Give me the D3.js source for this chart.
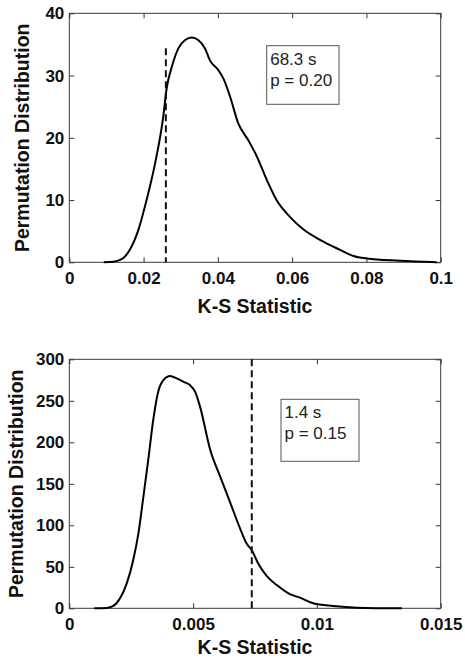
<!DOCTYPE html>
<html>
<head>
<meta charset="utf-8">
<script src="https://cdn.jsdelivr.net/npm/d3@7"></script>
<style>
  body { margin: 0; background: #fff; }
  svg { display: block; }
  text { font-family: "Liberation Sans", Arial, Helvetica, sans-serif; }
</style>
</head>
<body>
<div id="chart"></div>
<script>
// top panel: permutation distribution of K-S statistic (68.3 s)
const topKs = [0.0093, 0.0119, 0.0141, 0.0163, 0.0186, 0.0208, 0.0231, 0.0253, 0.0262, 0.0276,
  0.0294, 0.0312, 0.0330, 0.0347, 0.0365, 0.0379, 0.0401, 0.0415, 0.0433, 0.0455, 0.0482,
  0.0505, 0.0532, 0.0558, 0.0594, 0.0630, 0.0675, 0.0729, 0.0765, 0.0801, 0.0890, 0.0989];
const topDens = [0, 0.1, 0.5, 2.0, 5.2, 10.0, 15.9, 23.4, 27.9, 31.4,
  34.4, 35.7, 36.1, 35.7, 34.4, 32.4, 30.9, 29.5, 26.6, 22.3, 19.6,
  17.0, 13.2, 10.0, 7.3, 5.3, 3.6, 2.0, 1.0, 0.6, 0.25, 0];
const topObserved = 0.026;
const topDashTop = 34.4;
const topNote = ['68.3 s', 'p = 0.20'];

// bottom panel (1.4 s)
const botKs = [0.00101, 0.00151, 0.00178, 0.00205, 0.00232, 0.00258, 0.00279, 0.00299, 0.00319,
  0.00339, 0.00359, 0.00380, 0.00407, 0.00434, 0.00460, 0.00487, 0.00508, 0.00528, 0.00569,
  0.00609, 0.00649, 0.00690, 0.00716, 0.00737, 0.00763, 0.00797, 0.00838, 0.00891, 0.00932,
  0.00985, 0.01066, 0.01161, 0.01343];
const botDens = [0, 0.4, 2.8, 12, 30, 58, 90, 134, 179,
  227, 261, 275, 280, 277, 273, 269, 261, 243, 191,
  159, 128, 96, 78, 70, 54, 39, 28, 17, 12.8,
  6, 2.8, 0.8, 0];
const botObserved = 0.00737;
const botDashTop = 300;
const botNote = ['1.4 s', 'p = 0.15'];

const topXTicks = [0, 0.02, 0.04, 0.06, 0.08, 0.1];
const topYTicks = [0, 10, 20, 30, 40];
const botXTicks = [0, 0.005, 0.01, 0.015];
const botYTicks = [0, 50, 100, 150, 200, 250, 300];

const width = 465, height = 658;
const svg = d3.select('#chart').append('svg')
  .attr('width', width)
  .attr('height', height);

const drawPanel = function(cfg) {
  const x = d3.scaleLinear().domain(cfg.xDomain).range([69.3, 440.7]);
  const y = d3.scaleLinear().domain(cfg.yDomain).range([cfg.bottom, cfg.top]);
  const g = svg.append('g');

  const styleAxis = (sel) => {
    sel.select('.domain').remove();
    sel.selectAll('.tick line').attr('stroke', '#333');
    sel.selectAll('.tick text')
      .attr('fill', '#111')
      .attr('font-size', '17px')
      .attr('font-weight', 'bold');
  };

  g.append('g')
    .attr('transform', `translate(0,${cfg.bottom})`)
    .call(d3.axisBottom(x).tickValues(cfg.xTicks).tickFormat(d3.format('~g'))
      .tickSizeInner(-5).tickSizeOuter(0).tickPadding(10))
    .call(styleAxis);
  g.append('g')
    .attr('transform', `translate(0,${cfg.top})`)
    .call(d3.axisTop(x).tickValues(cfg.xTicks).tickFormat('')
      .tickSizeInner(-5).tickSizeOuter(0))
    .call(styleAxis);
  g.append('g')
    .attr('transform', 'translate(69.3,0)')
    .call(d3.axisLeft(y).tickValues(cfg.yTicks)
      .tickSizeInner(-5).tickSizeOuter(0).tickPadding(5))
    .call(styleAxis);
  g.append('g')
    .attr('transform', 'translate(440.7,0)')
    .call(d3.axisRight(y).tickValues(cfg.yTicks).tickFormat('')
      .tickSizeInner(-5).tickSizeOuter(0))
    .call(styleAxis);

  // box
  g.append('rect')
    .attr('x', x.range()[0])
    .attr('y', cfg.top)
    .attr('width', x.range()[1] - x.range()[0])
    .attr('height', cfg.bottom - cfg.top)
    .attr('fill', 'none')
    .attr('stroke', '#3a3a3a')
    .attr('stroke-width', 1);

  const line = d3.line()
    .x((d) => x(d[0]))
    .y((d) => y(d[1]))
    .curve(d3.curveMonotoneX);

  g.append('path')
    .datum(d3.zip(cfg.ks, cfg.dens))
    .attr('d', line)
    .attr('fill', 'none')
    .attr('stroke', '#000')
    .attr('stroke-width', 2);

  g.append('line')
    .attr('x1', x(cfg.observed))
    .attr('x2', x(cfg.observed))
    .attr('y1', y(cfg.dashTop))
    .attr('y2', y(0))
    .attr('stroke', '#111')
    .attr('stroke-width', 2)
    .attr('stroke-dasharray', '7,4');

  // text box
  const note = g.append('g');
  note.append('rect')
    .attr('x', cfg.note.x)
    .attr('y', cfg.note.y)
    .attr('width', cfg.note.w)
    .attr('height', cfg.note.h)
    .attr('fill', '#fff')
    .attr('stroke', '#555')
    .attr('stroke-width', 1);
  note.selectAll('text')
    .data(cfg.note.lines)
    .enter().append('text')
      .attr('x', cfg.note.x + 3.5)
      .attr('y', (d, i) => cfg.note.y + 19 + i * 21)
      .attr('font-size', '17px')
      .attr('fill', '#222')
      .text((d) => d);

  g.append('text')
    .attr('x', 255)
    .attr('y', cfg.xLabelY)
    .attr('text-anchor', 'middle')
    .attr('font-size', '19.5px')
    .attr('font-weight', 'bold')
    .attr('fill', '#111')
    .text('K-S Statistic');

  g.append('text')
    .attr('transform', `translate(${cfg.yLabelX},${(cfg.top + cfg.bottom) / 2}) rotate(-90)`)
    .attr('text-anchor', 'middle')
    .attr('font-size', '19.5px')
    .attr('font-weight', 'bold')
    .attr('fill', '#111')
    .text('Permutation Distribution');
};

drawPanel({
  xDomain: [0, 0.1], yDomain: [0, 40], top: 13.3, bottom: 262.3,
  xTicks: topXTicks, yTicks: topYTicks,
  ks: topKs, dens: topDens, observed: topObserved, dashTop: topDashTop,
  note: { x: 266.7, y: 45.7, w: 72.3, h: 58.6, lines: topNote },
  xLabelY: 313, yLabelX: 29
});

drawPanel({
  xDomain: [0, 0.015], yDomain: [0, 300], top: 359.3, bottom: 608.3,
  xTicks: botXTicks, yTicks: botYTicks,
  ks: botKs, dens: botDens, observed: botObserved, dashTop: botDashTop,
  note: { x: 281, y: 399.3, w: 78, h: 62, lines: botNote },
  xLabelY: 654, yLabelX: 23
});
</script>
</body>
</html>
